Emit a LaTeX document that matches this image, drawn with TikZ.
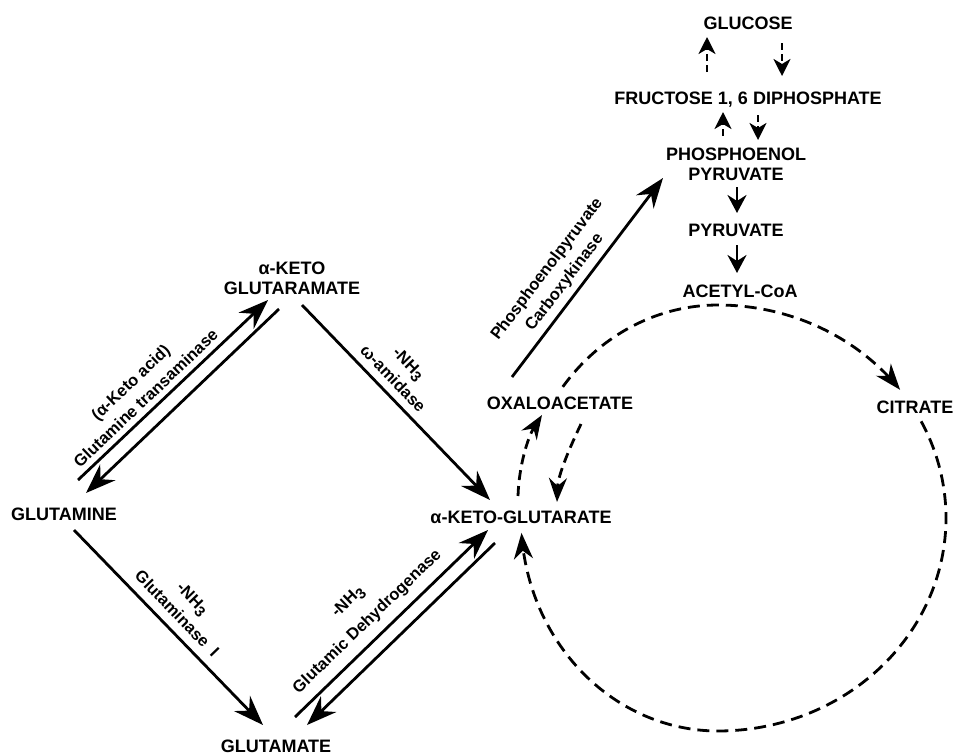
\documentclass[tikz,border=0pt]{standalone}
\usepackage{fontspec}
\setmainfont{Liberation Sans}
\usetikzlibrary{arrows.meta}
\newcommand{\nhthree}{-NH\raisebox{-4pt}{\fontsize{15}{15}\selectfont 3}}
\begin{document}
\begin{tikzpicture}[x=1pt,y=-1pt,
  nd/.style={font=\fontsize{18}{20}\selectfont\bfseries, inner sep=0pt, align=center},
  lb/.style={font=\fontsize{16.5}{22}\selectfont\bfseries, inner sep=0pt, align=center},
  big/.style={line width=2.8pt, -{Stealth[length=30pt,width=22pt,inset=10pt]}},
  sm/.style={line width=2.8pt, -{Stealth[length=18pt,width=19pt,inset=6pt]}},
  dsm/.style={line width=2.8pt, dash pattern=on 7pt off 4pt, -{Stealth[length=17pt,width=17pt,inset=5pt]}},
  dmid/.style={line width=2.8pt, dash pattern=on 10pt off 6pt, -{Stealth[length=24pt,width=18pt,inset=8pt]}},
  cyc/.style={line width=2.8pt, dash pattern=on 12pt off 7pt, -{Stealth[length=26pt,width=19pt,inset=8pt]}},
]
\useasboundingbox (0,0) rectangle (955,753);

% nodes
\node[nd] (glucose) at (748,23) {GLUCOSE};
\node[nd] (fdp) at (748,100) {FRUCTOSE 1, 6 DIPHOSPHATE};
\node[nd] (pep) at (736,164) {PHOSPHOENOL\\PYRUVATE};
\node[nd] (pyr) at (736,230) {PYRUVATE};
\node[nd] (acoa) at (740,291) {ACETYL-CoA};
\node[nd] (cit) at (915,407) {CITRATE};
\node[nd] (oaa) at (560,403) {OXALOACETATE};
\node[nd] (akg) at (521,517) {α-KETO-GLUTARATE};
\node[nd] (gln) at (64,514) {GLUTAMINE};
\node[nd] (glu) at (276,746) {GLUTAMATE};
\node[nd] (akgm) at (292,278) {α-KETO\\GLUTARAMATE};

% connector end points
\coordinate (g1s) at (707,72);  \coordinate (g1e) at (707,37);
\coordinate (g2s) at (782,43);  \coordinate (g2e) at (782,76);
\coordinate (f1s) at (723,136); \coordinate (f1e) at (723,112);
\coordinate (f2s) at (758,115); \coordinate (f2e) at (758,140);
\coordinate (p1s) at (737,187); \coordinate (p1e) at (737,213);
\coordinate (p2s) at (737,245); \coordinate (p2e) at (737,273);

% glycolysis / gluconeogenesis
\draw[dsm] (g1s) -- (g1e);
\draw[dsm] (g2s) -- (g2e);
\draw[dsm] (f1s) -- (f1e);
\draw[dsm] (f2s) -- (f2e);
\draw[sm] (p1s) -- (p1e);
\draw[sm] (p2s) -- (p2e);

% diamond
\coordinate (a1s) at (78,480);  \coordinate (a1e) at (268,300);
\coordinate (a2s) at (279,309); \coordinate (a2e) at (86,493);
\coordinate (a3s) at (302,305); \coordinate (a3e) at (490,500);
\coordinate (a4s) at (74,530);  \coordinate (a4e) at (263,725);
\coordinate (a5s) at (295,717); \coordinate (a5e) at (488,530);
\coordinate (a6s) at (495,543); \coordinate (a6e) at (307,725);
\coordinate (a7s) at (512,377); \coordinate (a7e) at (663,178);
\draw[big] (a1s) -- (a1e);
\draw[big] (a2s) -- (a2e);
\draw[big] (a3s) -- (a3e);
\draw[big] (a4s) -- (a4e);
\draw[big] (a5s) -- (a5e);
\draw[big] (a6s) -- (a6e);
\draw[big] (a7s) -- (a7e);

% labels
\node[lb, rotate=43.5] (l1) at (138,390) {(α-Keto acid)\\Glutamine transaminase};
\node[lb, rotate=-46] (l2) at (401,371) {\nhthree\\ω-amidase};
\node[lb, rotate=-46] (l3) at (185,606) {\nhthree\\Glutaminase\ \ I};
\node[lb, rotate=44] (l4) at (358,612) {\nhthree\\[6pt]Glutamic Dehydrogenase};
\node[lb, rotate=52.8] (l5) at (556,276) {Phosphoenolpyruvate\\Carboxykinase};

% OAA <-> alpha-KG
\coordinate (o1s) at (518,496); \coordinate (o1e) at (542,415);
\coordinate (o2s) at (581,424); \coordinate (o2e) at (557,502);
\draw[dmid] (o1s) .. controls (519,465) and (528,437) .. (o1e);
\draw[dmid] (o2s) .. controls (570,447) and (558,475) .. (o2e);

% TCA cycle
\draw[cyc] plot[domain=142:37, samples=60, smooth] ({718+(\x<90 ? 228 : 197)*cos(\x)}, {518-213*sin(\x)});
\draw[cyc] plot[domain=27:-176, samples=100, smooth] ({718+(\x>-90 ? 228 : 197)*cos(\x)}, {518-213*sin(\x)});
\end{tikzpicture}
\end{document}
